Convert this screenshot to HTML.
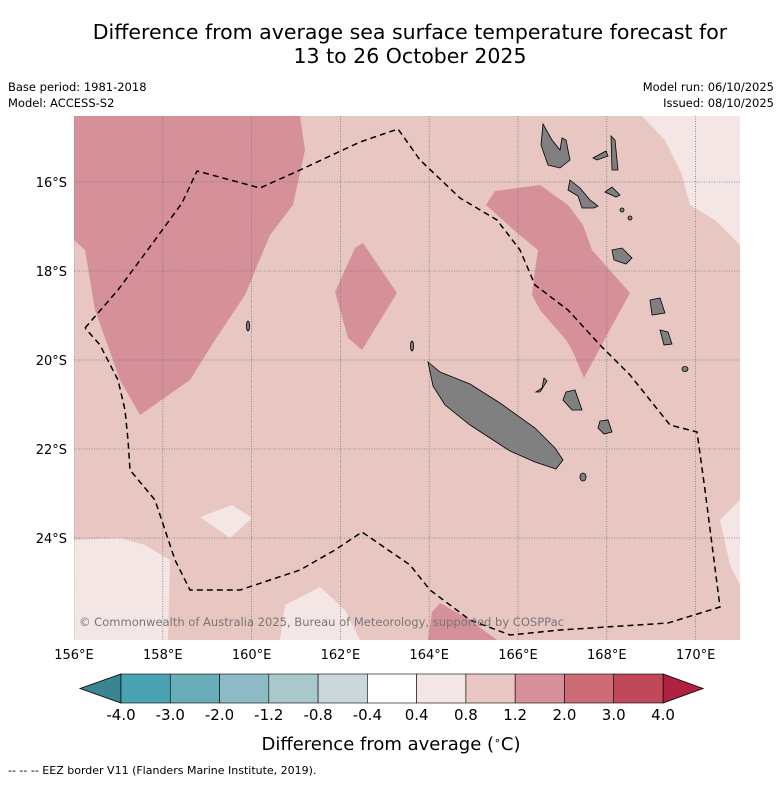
<!DOCTYPE html>
<html><head><meta charset="utf-8"><style>
body{margin:0;background:#fff;width:781px;height:781px;overflow:hidden;font-family:"DejaVu Sans","Liberation Sans",sans-serif}
</style></head><body>
<svg id="chart" width="781" height="781" viewBox="0 0 781 781" xmlns="http://www.w3.org/2000/svg" font-family="DejaVu Sans, Liberation Sans, sans-serif">
<text x="410" y="39" font-size="20.5" text-anchor="middle">Difference from average sea surface temperature forecast for</text>
<text x="410" y="63" font-size="20.5" text-anchor="middle">13 to 26 October 2025</text>
<text x="8" y="91" font-size="11.5">Base period: 1981-2018</text>
<text x="8" y="107" font-size="11.5">Model: ACCESS-S2</text>
<text x="774" y="91" font-size="11.5" text-anchor="end">Model run: 06/10/2025</text>
<text x="774" y="107" font-size="11.5" text-anchor="end">Issued: 08/10/2025</text>
<defs><clipPath id="mapclip"><rect x="74" y="116" width="666" height="524"/></clipPath></defs>
<g clip-path="url(#mapclip)">
<rect x="74" y="116" width="666" height="524" fill="#e8c7c3"/>
<polygon fill="#d6909a" points="74,116 300,116 305,150 293,205 270,235 245,295 215,340 190,380 140,415 120,380 95,310 85,250 74,240"/>
<polygon fill="#d6909a" points="355,248 363,243 397,293 362,350 348,338 335,292"/>
<polygon fill="#d6909a" points="486,205 495,191 540,185 568,205 583,225 592,250 630,293 607,335 584,378 572,350 566,340 540,310 532,295 535,270 538,250 516,232"/>
<polygon fill="#d6909a" points="428,640 432,612 440,603 470,620 497,640"/>
<g fill="#f4e6e4">
<polygon points="642,116 740,116 740,245 715,220 690,205 682,175 665,140"/>
<polygon points="720,520 740,500 740,585 730,565"/>
<polygon points="74,540 120,538 145,545 170,560 168,640 74,640"/>
<polygon points="200,517 232,505 252,518 230,538"/>
<polygon points="280,640 285,605 320,587 345,610 360,640"/>
</g>
<g stroke="#777" stroke-width="0.8" stroke-dasharray="1,1.5" id="grid"></g>
<g fill="#808080" stroke="#000" stroke-width="0.8">
<polygon points="428,362 440,372 470,384 500,403 535,428 555,448 563,460 556,469 535,462 510,451 470,425 445,405 433,386"/>
<polygon points="543,124 552,140 560,150 562,138 566,140 570,160 560,168 548,165 541,145"/>
<polygon points="570,180 580,188 590,200 598,206 594,208 582,208 578,196 568,190"/>
<polygon points="612,250 622,248 632,258 626,264 614,260"/>
<polygon points="650,300 660,298 665,313 652,315"/>
<polygon points="660,330 668,332 672,344 664,345"/>
<polygon points="593,158 606,151 608,156 597,160"/>
<polygon points="611,136 615,140 618,170 612,170"/>
<polygon points="605,192 612,187 620,195 616,197"/>
<polygon points="566,392 575,390 582,410 572,410 563,400"/>
<polygon points="600,421 608,420 612,432 604,434 598,428"/>
<polygon points="544,378 547,381 540,392 536,392 542,388"/>
<ellipse cx="583" cy="477" rx="3" ry="4"/>
<ellipse cx="685" cy="369" rx="3" ry="2.5"/>
<ellipse cx="248" cy="326" rx="1.5" ry="5"/>
<ellipse cx="412" cy="346" rx="1.5" ry="5"/>
<ellipse cx="622" cy="210" rx="2" ry="2"/>
<ellipse cx="630" cy="218" rx="2" ry="2"/>
</g>
<polyline fill="none" stroke="#000" stroke-width="1.5" stroke-dasharray="6,4" points="85,328 118,290 155,240 182,203 197,171 260,188 300,170 360,142 398,129 420,160 460,198 497,220 520,250 535,285 568,310 600,345 630,375 670,425 697,432 705,490 720,607 668,623 560,630 510,635 470,620 430,590 410,565 362,532 335,550 300,570 240,590 190,590 175,560 155,500 130,470 128,440 125,410 118,380 100,345 85,328"/>
<text x="79" y="626" font-size="11.4" fill="#777" textLength="485" lengthAdjust="spacingAndGlyphs">© Commonwealth of Australia 2025, Bureau of Meteorology, supported by COSPPac</text>
</g>
<g id="axes" font-size="13"></g>
<g id="cbar"></g>
<text x="391" y="750" font-size="18" text-anchor="middle">Difference from average (<tspan baseline-shift="super" font-size="11">∘</tspan>C)</text>
<text x="8" y="774" font-size="11">--  --  -- EEZ border V11 (Flanders Marine Institute, 2019).</text>
</svg>
<script>
const lonTicks=[156,158,160,162,164,166,168,170];
const latTicks=[16,18,20,22,24];
const cbarLabels=["-4.0","-3.0","-2.0","-1.2","-0.8","-0.4","0.4","0.8","1.2","2.0","3.0","4.0"];
const cbarColors=["#4aa3b3","#69adb9","#8dbac4","#a9c8cc","#cbd8db","#ffffff","#f4e6e4","#e8c7c3","#d6909a","#cd6b76","#c0485a"];
const NS="http://www.w3.org/2000/svg";
const x=lon=>74+(lon-156)*44.4;
const y=lat=>182+(lat-16)*44.5;
function mk(t,a,p){const e=document.createElementNS(NS,t);for(const k in a)e.setAttribute(k,a[k]);p.appendChild(e);return e;}
const grid=document.getElementById('grid'),axes=document.getElementById('axes'),cb=document.getElementById('cbar');
lonTicks.forEach(l=>{
 const g=mk('line',{x1:x(l),x2:x(l),y1:116,y2:640},grid);
 
 
 const t=mk('text',{x:x(l),y:659,'text-anchor':'middle'},axes);t.textContent=l+'°E';
 
 
});
latTicks.forEach(l=>{
 const g=mk('line',{x1:74,x2:740,y1:y(l),y2:y(l)},grid);
 
 
 const t=mk('text',{x:67,y:y(l)+5,'text-anchor':'end'},axes);t.textContent=l+'°S';
 
 
});
const cx0=121,cw=(663-121)/cbarColors.length,cy0=674,ch=29;
const lt=mk('polygon',{points:`80,${cy0+ch/2} ${cx0},${cy0} ${cx0},${cy0+ch}`,fill:'#3b8590',stroke:'#000','stroke-width':0.8},cb);


const rt=mk('polygon',{points:`703,${cy0+ch/2} 663,${cy0} 663,${cy0+ch}`,fill:'#b02040',stroke:'#000','stroke-width':0.8},cb);


cbarColors.forEach((c,i)=>{
 const r=mk('rect',{x:cx0+i*cw,y:cy0,width:cw,height:ch,fill:c,stroke:'#000','stroke-width':0.6},cb);
 
 
});
cbarLabels.forEach((s,i)=>{
 const t=mk('text',{x:cx0+i*cw,y:720,'text-anchor':'middle','font-size':15},cb);t.textContent=s;
 
 
});
</script>
</body></html>
